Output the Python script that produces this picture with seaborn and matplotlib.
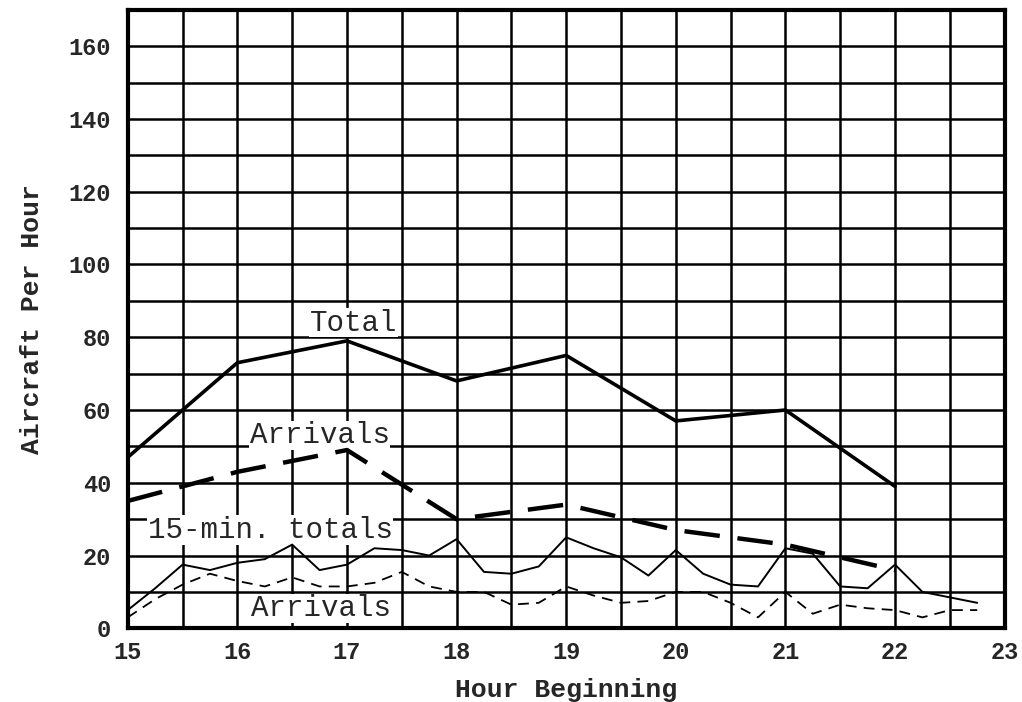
import numpy as np
import pandas as pd
import seaborn as sns
import matplotlib.pyplot as plt
from matplotlib.ticker import MultipleLocator

# hourly values
hours = [15, 16, 17, 18, 19, 20, 21, 22]
total_hourly = [47, 73, 79, 68, 75, 57, 60, 39]
arrivals_hourly = [35, 43, 49, 30, 34, 27, 23, 16]

# 15-minute values, 15:00 .. 22:45
quarters = [15 + 0.25 * i for i in range(32)]
total_15 = [5, 11, 17.5, 16, 18, 19, 23, 16,
            17.5, 22, 21.5, 20, 24.5, 15.5, 15, 17,
            25, 22, 19.5, 14.5, 21.5, 15, 12, 11.5,
            22, 20.5, 11.5, 11, 17.5, 10, 8.5, 7]
arrivals_15 = [3, 8, 12, 15, 13, 11.5, 14, 11.5,
               11.5, 12.5, 15.5, 11.5, 10, 10, 6.5, 7,
               11.5, 9, 7, 7.5, 10, 10, 7, 3,
               10, 4, 6.5, 5.5, 5, 3, 5, 5]

hourly = pd.DataFrame({'hour': hours, 'total': total_hourly, 'arrivals': arrivals_hourly})
quarterly = pd.DataFrame({'hour': quarters, 'total': total_15, 'arrivals': arrivals_15})

sns.set_style('white')
plt.rcParams['font.family'] = ['Liberation Mono', 'DejaVu Sans Mono']

fig, ax = plt.subplots(figsize=(10.22, 7.02), dpi=100)
fig.subplots_adjust(left=0.125, right=0.983, top=0.986, bottom=0.105)

sns.lineplot(data=hourly, x='hour', y='total', ax=ax, color='black', lw=2.6, zorder=4)
sns.lineplot(data=hourly, x='hour', y='arrivals', ax=ax, color='black', lw=3.2,
             zorder=4).lines[-1].set_dashes((8, 4))
sns.lineplot(data=quarterly, x='hour', y='total', ax=ax, color='black', lw=1.4, zorder=4)
sns.lineplot(data=quarterly, x='hour', y='arrivals', ax=ax, color='black', lw=1.3,
             zorder=4).lines[-1].set_dashes((6, 4))

ax.set_xlim(15, 23)
ax.set_ylim(0, 170)
ax.xaxis.set_major_locator(MultipleLocator(1))
ax.xaxis.set_minor_locator(MultipleLocator(0.5))
ax.yaxis.set_minor_locator(MultipleLocator(10))
ax.set_yticks(range(0, 161, 20))
ax.grid(True, which='both', color='black', lw=1.8)
ax.tick_params(which='both', length=0, labelsize=17)
ax.tick_params(axis='y', pad=12)
ax.tick_params(axis='x', pad=9)
for lab in ax.get_xticklabels() + ax.get_yticklabels():
    lab.set_fontweight('bold')
for s in ax.spines.values():
    s.set_color('black')
    s.set_linewidth(3)

ax.set_xlabel('Hour Beginning', fontsize=19, fontweight='bold', labelpad=10)
ax.set_ylabel('Aircraft Per Hour', fontsize=19, fontweight='bold', labelpad=18)

box = dict(facecolor='white', edgecolor='none', pad=0.5)
ax.text(17.06, 84, 'Total', fontsize=21, ha='center', va='center', bbox=box, zorder=3)
ax.text(16.75, 53, 'Arrivals', fontsize=21, ha='center', va='center', bbox=box, zorder=3)
ax.text(16.3, 27, '15-min. totals', fontsize=21, ha='center', va='center', bbox=box, zorder=3)
ax.text(16.76, 5.5, 'Arrivals', fontsize=21, ha='center', va='center', bbox=box, zorder=3)

plt.savefig('out.png', dpi=100)
